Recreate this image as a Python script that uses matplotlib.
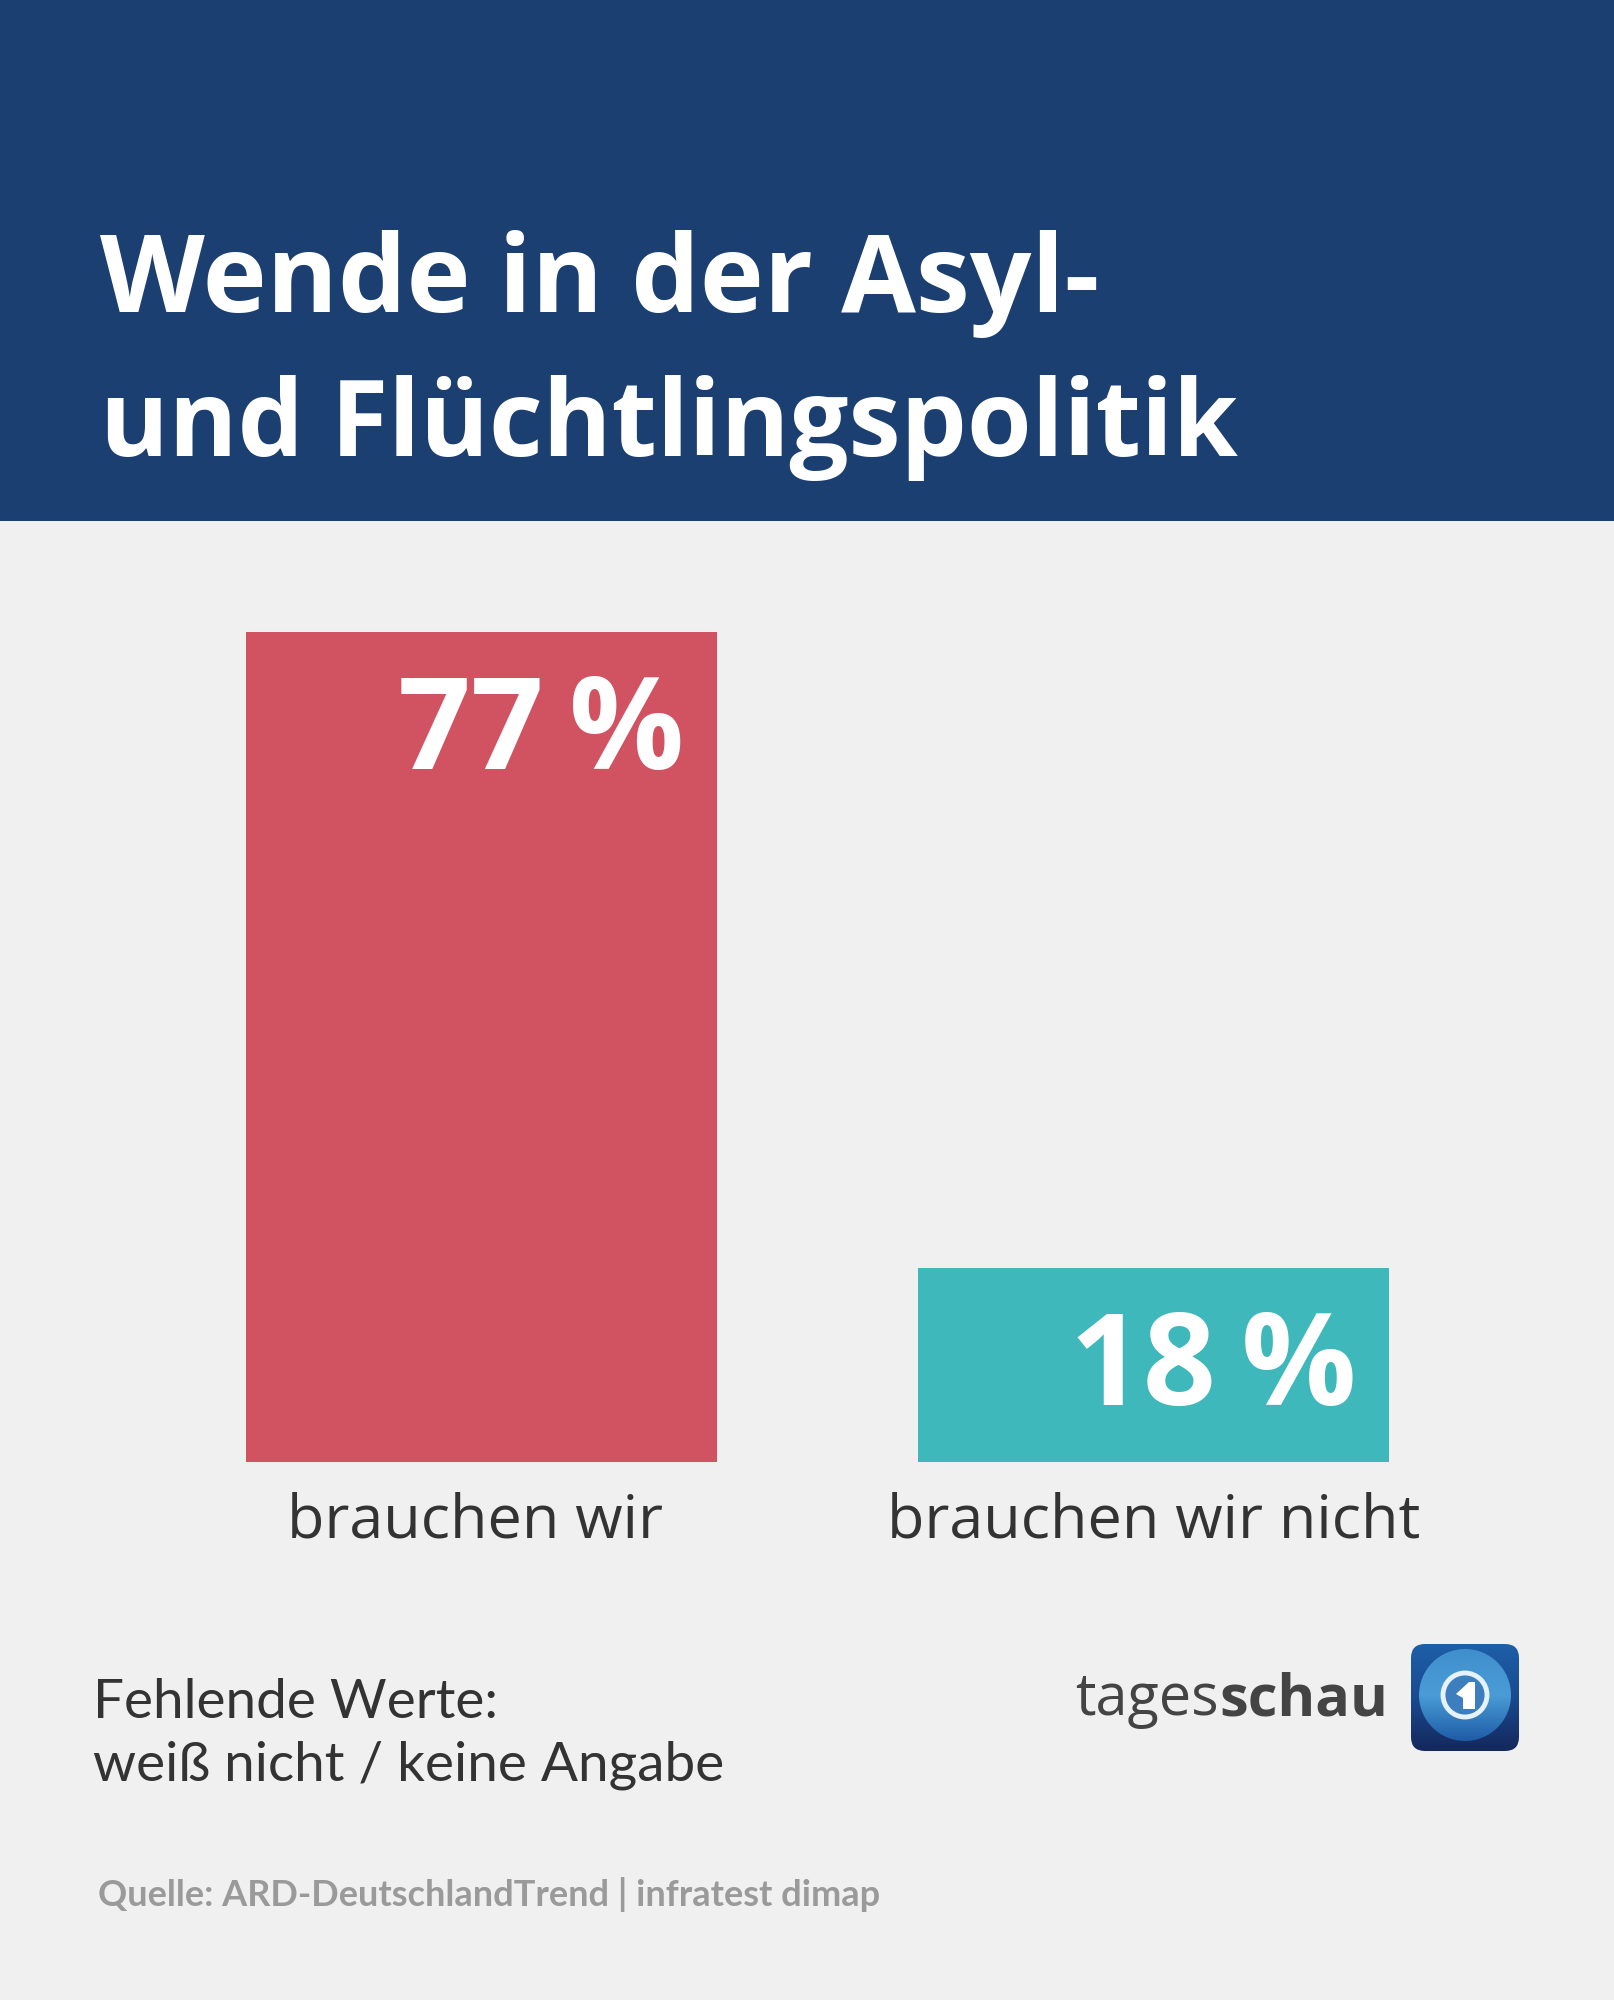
import matplotlib
matplotlib.use("Agg")
import matplotlib.pyplot as plt
import numpy as np
from matplotlib.patches import Rectangle, FancyBboxPatch, Circle, Polygon

W, H = 1615, 2000

title_lines = ["Wende in der Asyl-", "und Flüchtlingspolitik"]
categories = ["brauchen wir", "brauchen wir nicht"]
values = [77, 18]
value_labels = ["77\u2009%", "18\u2009%"]
bar_colors = ["#d15361", "#3fb8bb"]

bg = "#f0f0f0"
navy = "#1c3f72"
dark = "#333333"

plt.rcParams["font.family"] = ["Open Sans", "DejaVu Sans"]

fig = plt.figure(figsize=(W / 100, H / 100), dpi=100, facecolor=bg)

# ganze Flaeche in Pixeln
page = fig.add_axes([0, 0, 1, 1])
page.set_xlim(0, W)
page.set_ylim(H, 0)
page.axis("off")
page.add_patch(Rectangle((0, 0), W, 521, color=navy, lw=0))

page.text(100, 284, title_lines[0], color="white", fontsize=78, fontweight="bold", va="center")
page.text(100, 428, title_lines[1], color="white", fontsize=75.3, fontweight="bold", va="center")

# Balken: y-Achse so, dass 77 von 1462 bis 632 geht
ax = fig.add_axes([0, (H - 1462) / H, 1, (1462 - 632) / H])
ax.set_xlim(0, W)
ax.set_ylim(0, 77)
ax.axis("off")
ax.patch.set_alpha(0)
lefts = [246, 918]
bar_w = 471
for i in range(2):
    ax.bar(lefts[i] + bar_w / 2, values[i], width=bar_w, color=bar_colors[i], lw=0)
    ax.annotate(value_labels[i], (lefts[i] + bar_w, values[i]), xytext=(-33, -40),
                textcoords="offset pixels", color="white", fontsize=92, fontweight="bold",
                ha="right", va="top")
    page.text(lefts[i] + bar_w / 2 - (0 if i else 6), 1522, categories[i], color=dark,
              fontsize=44, ha="center", va="center")

page.text(93, 1702, "Fehlende Werte:", color=dark, fontsize=39.5, va="center", fontfamily="Lato")
page.text(93, 1765, "weiß nicht / keine Angabe", color=dark, fontsize=39.5, va="center", fontfamily="Lato")
page.text(98, 1894, "Quelle: ARD-DeutschlandTrend | infratest dimap", color="#9a9a9a",
          fontsize=26, va="center", fontfamily="Lato", fontweight="bold")

# Logo
t1 = page.text(1388, 1700, "schau", color="#444444", fontsize=41.5, fontweight="bold", ha="right", va="center")
fig.canvas.draw()
bb = t1.get_window_extent()
page.text(bb.x0, 1700, "tages", color="#444444", fontsize=41.5, ha="right", va="center")

box = FancyBboxPatch((1411, 1644), 108, 107, boxstyle="round,pad=0,rounding_size=14",
                     fc="none", ec="none")
page.add_patch(box)
grad = np.linspace(0, 1, 128).reshape(-1, 1)
cm_box = matplotlib.colors.LinearSegmentedColormap.from_list("box", ["#1d5fa8", "#1a4a90", "#14285c"])
im = page.imshow(grad, extent=(1411, 1519, 1751, 1644), cmap=cm_box, aspect="auto", zorder=2)
im.set_clip_path(box)
globe = Circle((1465, 1695), 46, fc="none", ec="none")
page.add_patch(globe)
cm_globe = matplotlib.colors.LinearSegmentedColormap.from_list("globe", ["#3f8fcc", "#4a9cd6", "#1e5ca6"])
im2 = page.imshow(grad, extent=(1419, 1511, 1741, 1649), cmap=cm_globe, aspect="auto", zorder=3)
im2.set_clip_path(globe)
page.add_patch(Circle((1465, 1695), 22, fc="#3d7fbe", ec="#e6f2fa", lw=3.5, zorder=4))
page.add_patch(Polygon([(1456, 1694), (1469, 1682), (1475, 1682), (1475, 1709), (1463, 1709), (1463, 1698)],
                       fc="white", ec="none", zorder=5))
page.set_xlim(0, W)
page.set_ylim(H, 0)

fig.savefig("out.png", dpi=100, facecolor=bg)
